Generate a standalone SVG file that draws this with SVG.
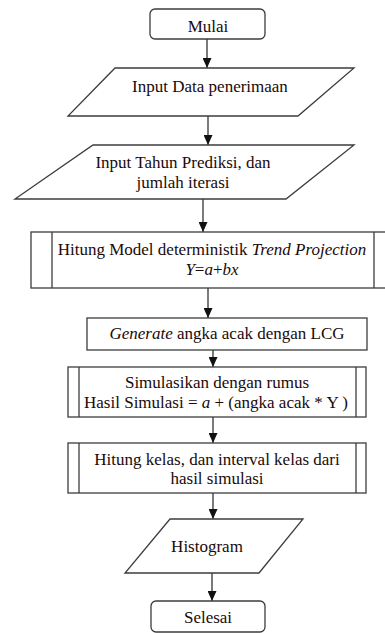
<svg xmlns="http://www.w3.org/2000/svg" width="385" height="633" viewBox="0 0 385 633">
<style>
.shape{fill:#ffffff;stroke:#3c3c3c;stroke-width:1.3}
.conn{fill:none;stroke:#333333;stroke-width:1.3}
.t{font-family:'Liberation Serif','Times New Roman',Times,serif;font-size:17px;fill:#1a0a0a;text-anchor:middle}
.i{font-style:italic}
</style>
<defs>
<marker id="arr" viewBox="0 -4.5 10 9" markerWidth="10" markerHeight="9" refX="10" refY="0" orient="auto" markerUnits="userSpaceOnUse">
<path d="M0,-4.5 L10,0 L0,4.5 z" fill="#111111"/>
</marker>
</defs>
<rect width="385" height="633" fill="#ffffff"/>
<g id="connectors">
<line class="conn" x1="207" y1="39" x2="207" y2="68" marker-end="url(#arr)"/>
<line class="conn" x1="208" y1="116" x2="208" y2="145" marker-end="url(#arr)"/>
<line class="conn" x1="203" y1="199" x2="203" y2="232" marker-end="url(#arr)"/>
<line class="conn" x1="208" y1="288" x2="208" y2="318" marker-end="url(#arr)"/>
<line class="conn" x1="213" y1="350" x2="213" y2="367" marker-end="url(#arr)"/>
<line class="conn" x1="213" y1="417" x2="213" y2="443" marker-end="url(#arr)"/>
<line class="conn" x1="213" y1="493" x2="213" y2="519" marker-end="url(#arr)"/>
<line class="conn" x1="212" y1="573" x2="212" y2="601" marker-end="url(#arr)"/>
</g>
<g class="t">
<g id="mulai">
<rect class="shape" x="150" y="9" width="115" height="30" rx="5"/>
<text x="208" y="32">Mulai</text>
</g>
<g id="input-data">
<polygon class="shape" points="115,68 354,68 298,116 68,116"/>
<text x="210" y="92">Input Data penerimaan</text>
</g>
<g id="input-tahun">
<polygon class="shape" points="93,145 354,145 286,199 15,199"/>
<text x="183" y="168">Input Tahun Prediksi, dan</text>
<text x="183" y="188">jumlah iterasi</text>
</g>
<g id="hitung-model">
<rect class="shape" x="31" y="232" width="366" height="56"/>
<line class="shape" x1="52" y1="232" x2="52" y2="288"/>
<line class="shape" x1="374" y1="232" x2="374" y2="288"/>
<text x="212" y="255">Hitung Model deterministik <tspan class="i">Trend Projection</tspan></text>
<text x="212" y="275"><tspan class="i">Y</tspan>=<tspan class="i">a</tspan>+<tspan class="i">bx</tspan></text>
</g>
<g id="generate">
<rect class="shape" x="87" y="318" width="280" height="32"/>
<text x="227" y="339"><tspan class="i">Generate</tspan> angka acak dengan LCG</text>
</g>
<g id="simulasi">
<rect class="shape" x="68" y="367" width="298" height="50"/>
<line class="shape" x1="79" y1="367" x2="79" y2="417"/>
<line class="shape" x1="356" y1="367" x2="356" y2="417"/>
<text x="217" y="388">Simulasikan dengan rumus</text>
<text x="216" y="408">Hasil Simulasi = <tspan class="i">a</tspan> + (angka acak * Y )</text>
</g>
<g id="hitung-kelas">
<rect class="shape" x="68" y="443" width="298" height="50"/>
<line class="shape" x1="79" y1="443" x2="79" y2="493"/>
<line class="shape" x1="356" y1="443" x2="356" y2="493"/>
<text x="217" y="465">Hitung kelas, dan interval kelas dari</text>
<text x="217" y="484">hasil simulasi</text>
</g>
<g id="histogram">
<polygon class="shape" points="170,519 303,519 259,573 125,573"/>
<text x="207" y="552">Histogram</text>
</g>
<g id="selesai">
<rect class="shape" x="151" y="601" width="114" height="31" rx="5"/>
<text x="208" y="623">Selesai</text>
</g>
</g>
</svg>
